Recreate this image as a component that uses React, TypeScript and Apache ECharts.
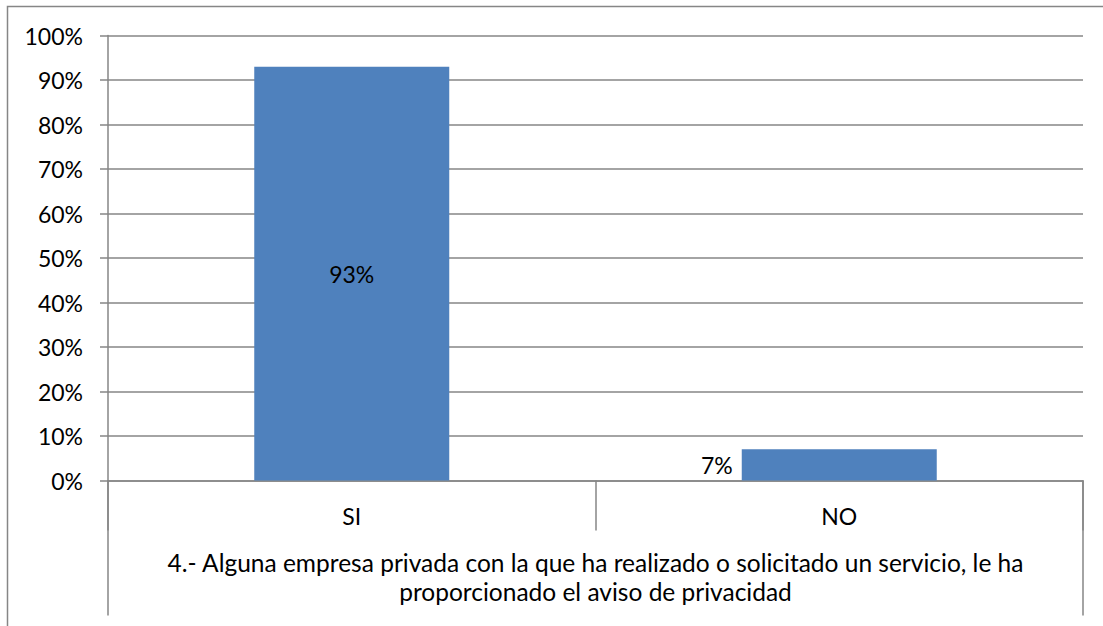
import React, { useEffect, useRef } from "react";
import * as echarts from "echarts";

const categories = ["SI", "NO"];
const values = [93, 7];
const labelPositions = ["inside", "left"];
const titleLines = [
  "4.- Alguna empresa privada con la que ha realizado o solicitado un servicio, le ha",
  "proporcionado el aviso de privacidad",
];
const yTicks = { min: 0, max: 100, interval: 10 };

const FONT = "Lato";
const GRID = "#868686";
const FS = 23;

export default function App() {
  const ref = useRef<HTMLDivElement>(null);
  useEffect(() => {
    const chart = echarts.init(ref.current!, null, { renderer: "svg" });
    chart.setOption({
      animation: false,
      backgroundColor: "#ffffff",
      textStyle: { fontFamily: FONT },
      graphic: [
        {
          type: "rect",
          shape: { x: 7.5, y: 6.5, width: 1200, height: 700 },
          style: { fill: "none", stroke: GRID, lineWidth: 1.5 },
          silent: true,
        },
      ],
      grid: { left: 108, right: 20, top: 35.5, bottom: 145.5 },
      xAxis: [
        {
          type: "category",
          data: categories,
          position: "bottom",
          axisLine: { show: true, lineStyle: { color: GRID, width: 1.5 } },
          axisTick: { show: true, length: 50, lineStyle: { color: GRID, width: 1.5 } },
          axisLabel: { color: "#000", fontSize: FS, fontFamily: FONT, margin: 24 },
          splitLine: { show: false },
        },
        {
          type: "category",
          data: [titleLines.join("\n")],
          position: "bottom",
          axisLine: { show: false },
          axisTick: { show: true, length: 135, lineStyle: { color: GRID, width: 1.5 } },
          axisLabel: {
            color: "#000",
            fontSize: 24.5,
            fontFamily: FONT,
            margin: 67,
            lineHeight: 29,
            align: "center",
          },
          splitLine: { show: false },
        },
      ],
      yAxis: {
        type: "value",
        min: yTicks.min,
        max: yTicks.max,
        interval: yTicks.interval,
        axisLine: { show: true, lineStyle: { color: GRID, width: 1.5 } },
        axisTick: { show: true, length: 8, lineStyle: { color: GRID, width: 1.5 } },
        axisLabel: {
          color: "#000",
          fontSize: FS,
          fontFamily: FONT,
          margin: 25,
          formatter: "{value}%",
        },
        splitLine: { show: true, lineStyle: { color: GRID, width: 1.5 } },
      },
      series: [
        {
          type: "bar",
          xAxisIndex: 0,
          barWidth: "40%",
          data: values.map((v, i) => ({
            value: v,
            label: {
              show: true,
              position: labelPositions[i],
              distance: 9,
              formatter: "{c}%",
              color: "#000",
              fontSize: FS,
              fontFamily: FONT,
            },
          })),
          itemStyle: { color: "#4f81bd" },
        },
      ],
    });
    return () => chart.dispose();
  }, []);
  return (
    <div
      ref={ref}
      style={{ position: "absolute", left: 0, top: 0, width: 1103, height: 626 }}
    />
  );
}
